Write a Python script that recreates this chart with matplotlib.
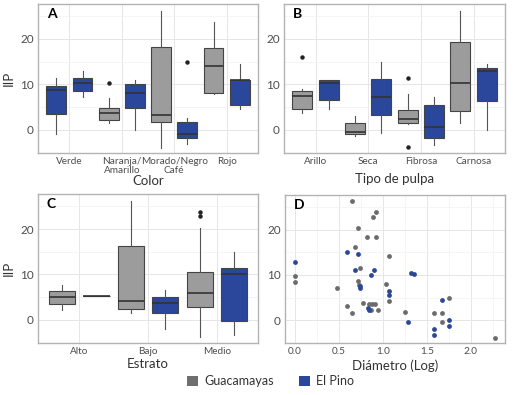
import matplotlib
matplotlib.use("Agg")
import matplotlib.pyplot as plt
from matplotlib.patches import Patch

plt.rcParams['font.family'] = ['Lato', 'DejaVu Sans']

GRAY = '#9c9c9c'
BLUE = '#2b479c'
GRAY_PT = '#6b6b6b'
BLUE_PT = '#2c4796'

# Panel A: Color
a_cats = ['Verde', 'Naranja/\nAmarillo', 'Morado/Negro\nCafé', 'Rojo']
a_groups = ['El Pino', 'El Pino', 'Guacamayas', 'El Pino', 'Guacamayas', 'El Pino', 'Guacamayas', 'El Pino']
a_low = [-1.0, 7.3, 1.4, -0.1, -3.9, -3.2, 7.8, 4.6]
a_q1 = [3.5, 8.6, 2.1, 4.85, 1.8, -1.75, 8.2, 5.4]
a_med = [8.75, 10.4, 3.75, 8.2, 3.3, -0.95, 14.1, 10.9]
a_q3 = [9.6, 11.5, 4.7, 10.1, 18.3, 1.7, 18.1, 10.9]
a_high = [11.3, 12.9, 7.1, 11.0, 26.25, 2.5, 23.75, 14.5]
a_out = [[], [], [10.2], [], [], [15.0], [], []]

# Panel B: Tipo de pulpa
b_cats = ['Arillo', 'Seca', 'Fibrosa', 'Carnosa']
b_groups = ['Guacamayas', 'El Pino'] * 4
b_low = [3.6, 4.55, -1.4, -0.6, 1.3, -3.3, 1.5, -0.1]
b_q1 = [4.55, 6.55, -0.95, 3.3, 1.4, -1.85, 4.2, 6.4]
b_med = [7.5, 10.2, -0.45, 7.3, 2.3, 0.66, 10.3, 12.9]
b_q3 = [8.45, 10.9, 1.4, 11.1, 4.35, 5.5, 19.3, 13.7]
b_high = [8.9, 10.9, 3.0, 15.0, 7.8, 7.2, 26.25, 14.4]
b_out = [[16.1], [], [], [], [11.5, -3.8], [], [], []]

# Panel C: Estrato
c_cats = ['Alto', 'Bajo', 'Medio']
c_groups = ['Guacamayas', 'El Pino'] * 3
c_low = [2.2, 5.3, 1.5, -2.1, -3.75, -3.3]
c_q1 = [3.5, 5.3, 2.35, 1.4, 2.8, -0.2]
c_med = [5.1, 5.3, 4.25, 3.6, 5.95, 10.0]
c_q3 = [6.4, 5.3, 16.2, 5.0, 10.6, 11.5]
c_high = [7.7, 5.3, 26.2, 6.5, 20.2, 15.0]
c_out = [[], [], [], [], [23.75, 22.8], []]

# Panel D: Diámetro (Log) vs IIP
d_guac_x = [0.648, 0.92, 0.886, 0.712, 0.814, 0.924, 0.685, 1.064, 0.739, 0.0, 0.0,
            0.712, 0.73, 0.473, 1.034, 0.587, 0.768, 0.651, 0.84, 0.88, 0.905, 0.87,
            0.943, 1.064, 1.253, 1.58, 1.677, 1.677, 1.757, 2.273]
d_guac_y = [26.3, 23.8, 22.8, 20.4, 18.4, 18.3, 16.2, 14.2, 11.5, 9.7, 8.5,
            8.7, 7.7, 7.1, 7.9, 3.2, 3.75, 1.6, 3.6, 3.6, 3.6, 2.2,
            2.2, 4.3, 1.85, 1.48, 1.48, -0.36, 4.8, -3.9]
d_pino_x = [0.0, 0.59, 0.712, 0.685, 0.90, 0.87, 0.735, 0.742, 1.064, 1.064, 0.83,
            0.845, 1.325, 1.352, 1.284, 1.677, 1.757, 1.757, 1.58, 1.58]
d_pino_y = [12.95, 15.0, 14.6, 11.0, 11.0, 9.9, 7.6, 7.15, 6.55, 5.45, 2.7,
            2.35, 10.45, 10.2, -0.43, 4.5, -0.07, -1.3, -2.05, -3.3]

colors = {'Guacamayas': GRAY, 'El Pino': BLUE}
YLIM = (-5.1, 27.7)


def style(ax, letter):
    ax.set_ylim(*YLIM)
    ax.set_yticks([0, 10, 20])
    ax.set_yticks([-5, 5, 15, 25], minor=True)
    ax.grid(True, which='major', color='#e6e6e6', lw=0.7)
    ax.grid(True, which='minor', axis='y', color='#f2f2f2', lw=0.5)
    ax.set_axisbelow(True)
    for s in ax.spines.values():
        s.set_color('#b3b3b3')
        s.set_linewidth(1.0)
    ax.tick_params(axis='both', which='both', length=0, labelsize=7.2,
                   labelcolor='#4d4d4d', pad=3)
    ax.tick_params(axis='y', labelsize=8.5)
    ax.text(0.04, 0.93, letter, transform=ax.transAxes, fontsize=10,
            fontweight='bold', va='center', ha='left', color='black')


def draw_boxes(ax, cats, groups, low, q1, med, q3, high, out):
    stats = []
    pos = []
    for k in range(len(low)):
        stats.append(dict(whislo=low[k], q1=q1[k], med=med[k], q3=q3[k],
                          whishi=high[k], fliers=out[k]))
        pos.append(k // 2 + 1 + (-0.25 if k % 2 == 0 else 0.25))
    res = ax.bxp(stats, positions=pos, widths=0.38, patch_artist=True,
                 showcaps=False,
                 boxprops=dict(edgecolor='#444444', linewidth=0.8),
                 medianprops=dict(color='#333333', linewidth=1.2),
                 whiskerprops=dict(color='#555555', linewidth=0.8),
                 flierprops=dict(marker='o', markersize=2.2, markerfacecolor='#222222',
                                 markeredgecolor='#222222'))
    for patch, g in zip(res['boxes'], groups):
        patch.set_facecolor(colors[g])
    ax.set_xlim(0.4, len(cats) + 0.6)
    ax.set_xticks(range(1, len(cats) + 1))
    ax.set_xticklabels(cats, linespacing=1.0)


fig = plt.figure(figsize=(5.28, 3.95), dpi=100)
axA = fig.add_axes([0.072, 0.6127, 0.4167, 0.3772])
axB = fig.add_axes([0.538, 0.6127, 0.4186, 0.3772])
axC = fig.add_axes([0.072, 0.1316, 0.4167, 0.3772])
axD = fig.add_axes([0.5398, 0.131, 0.4167, 0.376])

draw_boxes(axA, a_cats, a_groups, a_low, a_q1, a_med, a_q3, a_high, a_out)
draw_boxes(axB, b_cats, b_groups, b_low, b_q1, b_med, b_q3, b_high, b_out)
draw_boxes(axC, c_cats, c_groups, c_low, c_q1, c_med, c_q3, c_high, c_out)

axD.scatter(d_guac_x, d_guac_y, s=12, color=GRAY_PT, zorder=3, linewidths=0)
axD.scatter(d_pino_x, d_pino_y, s=12, color=BLUE_PT, zorder=3, linewidths=0)
axD.set_xlim(-0.114, 2.39)
axD.set_xticks([0.0, 0.5, 1.0, 1.5, 2.0])
axD.set_xticklabels(['0.0', '0.5', '1.0', '1.5', '2.0'])
axD.set_xticks([0.25, 0.75, 1.25, 1.75, 2.25], minor=True)

for ax, letter in zip([axA, axB, axC, axD], 'ABCD'):
    style(ax, letter)
axD.grid(True, which='minor', axis='x', color='#f2f2f2', lw=0.5)

lab = dict(fontsize=9.5, color='#333333')
axA.set_xlabel('Color', labelpad=0, **lab)
axB.set_xlabel('Tipo de pulpa', labelpad=5, **lab)
axC.set_xlabel('Estrato', labelpad=1, **lab)
axD.set_xlabel('Diámetro (Log)', labelpad=2, **lab)
axA.set_ylabel('IIP', labelpad=4, **lab)
axC.set_ylabel('IIP', labelpad=4, **lab)

handles = [Patch(facecolor='#6f6f6f', edgecolor='none', label='Guacamayas'),
           Patch(facecolor=BLUE, edgecolor='none', label='El Pino')]
fig.legend(handles=handles, loc='center', bbox_to_anchor=(0.512, 0.035), ncol=2,
           frameon=False, fontsize=9, handlelength=0.9, handleheight=0.9,
           handletextpad=0.5, columnspacing=2.0, labelcolor='#333333')

fig.savefig('out.png', dpi=100)
